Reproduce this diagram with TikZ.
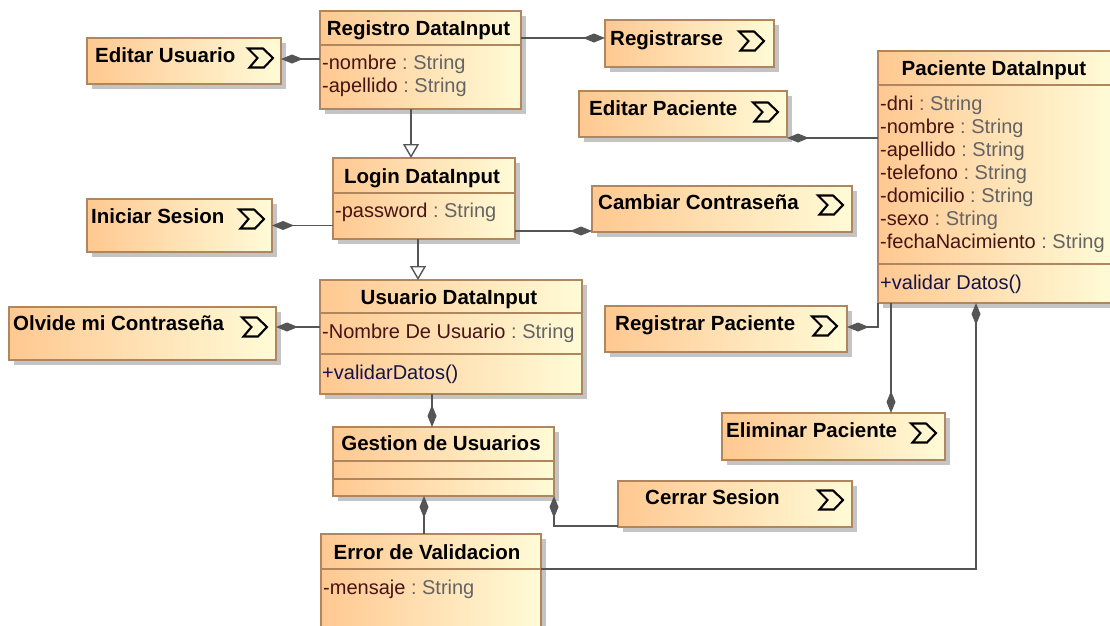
\documentclass[tikz,border=0pt]{standalone}
\usepackage{fontspec}
\setmainfont{Liberation Sans}
\usetikzlibrary{arrows.meta,shadows,calc}
\definecolor{cor}{RGB}{255,200,145}
\definecolor{cye}{RGB}{255,251,215}
\definecolor{cbd}{RGB}{176,134,94}
\definecolor{cln}{RGB}{85,85,85}
\definecolor{cnm}{RGB}{70,20,20}
\definecolor{cty}{RGB}{100,100,100}
\definecolor{cop}{RGB}{20,20,70}
\definecolor{csh}{RGB}{196,196,196}
\newcommand\attrline[2]{\textcolor{cnm}{#1}\ \textcolor{cty}{:\ #2}}
\tikzset{
  cls/.style={draw=cbd, line width=1.3pt, left color=cor, right color=cye, anchor=north west, inner sep=0pt, outer sep=0pt,
    drop shadow={shadow xshift=5pt, shadow yshift=-5pt, fill=csh, opacity=1}},
  sepline/.style={draw=cbd, line width=1.2pt},
  ttl/.style={font=\fontsize{20.5}{23}\selectfont\bfseries, inner sep=0pt, anchor=base},
  act/.style={font=\fontsize{20.5}{23}\selectfont\bfseries, inner sep=0pt, anchor=base west},
  attr/.style={font=\fontsize{20}{23}\selectfont, inner sep=0pt, anchor=base west},
  comp/.style={draw=cln, line width=1.4pt, -{Diamond[length=22pt,width=9pt,fill=cln]}},
  gen/.style={draw=cln, line width=1.4pt, -{Triangle[open,length=14pt,width=16pt,fill=white]}},
  chev/.pic={\draw[line width=2.1pt, line join=miter, black] (0,0) -- (15,0) -- (25,9.5) -- (16,19) -- (1.5,19) -- (9.5,9.5) -- cycle;},
}
\begin{document}
\begin{tikzpicture}[x=1pt,y=-1pt]
\useasboundingbox (0,0) rectangle (1110,625);
\clip (0,0) rectangle (1110,625);
% ---------- classes ----------
\node[cls, minimum width=201pt, minimum height=98pt] (reg) at (320,11) {};
\draw[sepline] ([yshift=-34pt]reg.north west) -- ([yshift=-34pt]reg.north east);
\node[ttl] (regT) at (418.5,35) {Registro DataInput};
\node[attr] (regA1) at (322,69) {\attrline{-nombre}{String}};
\node[attr] (regA2) at (322,92) {\attrline{-apellido}{String}};

\node[cls, minimum width=182pt, minimum height=81pt] (login) at (333,158) {};
\draw[sepline] ([yshift=-35pt]login.north west) -- ([yshift=-35pt]login.north east);
\node[ttl] (loginT) at (422,183) {Login DataInput};
\node[attr] (loginA1) at (335,217) {\attrline{-password}{String}};

\node[cls, minimum width=262pt, minimum height=114pt] (usu) at (320,280) {};
\draw[sepline] ([yshift=-33pt]usu.north west) -- ([yshift=-33pt]usu.north east);
\draw[sepline] ([yshift=-74pt]usu.north west) -- ([yshift=-74pt]usu.north east);
\node[ttl] (usuT) at (449,304) {Usuario DataInput};
\node[attr] (usuA1) at (322,338) {\attrline{-Nombre De Usuario}{String}};
\node[attr] (usuO1) at (322,379) {\textcolor{cop}{+validarDatos()}};

\node[cls, minimum width=221pt, minimum height=69pt] (gest) at (333,427) {};
\draw[sepline] ([yshift=-34pt]gest.north west) -- ([yshift=-34pt]gest.north east);
\draw[sepline] ([yshift=-52pt]gest.north west) -- ([yshift=-52pt]gest.north east);
\node[ttl] (gestT) at (441,450) {Gestion de Usuarios};

\node[cls, minimum width=220pt, minimum height=120pt] (err) at (321,534) {};
\draw[sepline] ([yshift=-35pt]err.north west) -- ([yshift=-35pt]err.north east);
\node[ttl] (errT) at (427,559) {Error de Validacion};
\node[attr] (errA1) at (323,594) {\attrline{-mensaje}{String}};

\node[cls, minimum width=234pt, minimum height=252pt] (pac) at (878,51) {};
\draw[sepline] ([yshift=-34pt]pac.north west) -- ([yshift=-34pt]pac.north east);
\draw[sepline] ([yshift=-213pt]pac.north west) -- ([yshift=-213pt]pac.north east);
\node[ttl] (pacT) at (994,75) {Paciente DataInput};
\node[attr] (pacA1) at (880,110) {\attrline{-dni}{String}};
\node[attr] (pacA2) at (880,133) {\attrline{-nombre}{String}};
\node[attr] (pacA3) at (880,156) {\attrline{-apellido}{String}};
\node[attr] (pacA4) at (880,179) {\attrline{-telefono}{String}};
\node[attr] (pacA5) at (880,202) {\attrline{-domicilio}{String}};
\node[attr] (pacA6) at (880,225) {\attrline{-sexo}{String}};
\node[attr] (pacA7) at (880,248) {\attrline{-fechaNacimiento}{String}};
\node[attr] (pacO1) at (880,289) {\textcolor{cop}{+validar Datos()}};

% ---------- actions ----------
\node[cls, minimum width=194pt, minimum height=46pt] (editU) at (87,38) {};
\node[act] (editUT) at (95,62) {Editar Usuario};
\pic at (248,48.5) {chev};

\node[cls, minimum width=169pt, minimum height=47pt] (regs) at (605,20) {};
\node[act] (regsT) at (610,45) {Registrarse};
\pic at (739,31.5) {chev};

\node[cls, minimum width=208pt, minimum height=46pt] (editP) at (579,91) {};
\node[act] (editPT) at (589,115) {Editar Paciente};
\pic at (753,102.5) {chev};

\node[cls, minimum width=185pt, minimum height=53pt] (inic) at (87,199) {};
\node[act] (inicT) at (91,223) {Iniciar Sesion};
\pic at (239,209.5) {chev};

\node[cls, minimum width=260pt, minimum height=46pt] (camb) at (592,186) {};
\node[act] (cambT) at (598,209) {Cambiar Contraseña};
\pic at (818,195.5) {chev};

\node[cls, minimum width=267pt, minimum height=53pt] (olv) at (9,307) {};
\node[act] (olvT) at (13,330) {Olvide mi Contraseña};
\pic at (242,317.5) {chev};

\node[cls, minimum width=242pt, minimum height=46pt] (regP) at (605,306) {};
\node[act] (regPT) at (615,330) {Registrar Paciente};
\pic at (812,316.5) {chev};

\node[cls, minimum width=223pt, minimum height=47pt] (elim) at (722,413) {};
\node[act] (elimT) at (726,437) {Eliminar Paciente};
\pic at (911,423.5) {chev};

\node[cls, minimum width=234pt, minimum height=46pt] (cerr) at (618,481) {};
\node[act] (cerrT) at (645,504) {Cerrar Sesion};
\pic at (818,490.5) {chev};

% ---------- connectors ----------
\coordinate (k1) at ([yshift=2pt]editU.east);
\draw[comp] (k1 -| reg.west) -- (k1);
\coordinate (k2) at ([yshift=5.5pt]regs.west);
\draw[comp] (k2 -| reg.east) -- (k2);
\coordinate (k3) at ([xshift=-9.5pt]reg.south);
\draw[gen] (k3) -- (k3 |- login.north);
\draw[comp] (login.west |- inic.east) -- (inic.east);
\coordinate (k5) at ([yshift=1pt]camb.south west);
\draw[comp] (k5 -| login.east) -- (k5);
\coordinate (k6) at ([xshift=-6pt]login.south);
\draw[gen] (k6) -- (k6 |- usu.north);
\coordinate (k7) at ([yshift=6.5pt]olv.east);
\draw[comp] (k7 -| usu.west) -- (k7);
\coordinate (k8) at ([xshift=-11.5pt]gest.north);
\draw[comp] (k8 |- usu.south) -- (k8);
\coordinate (k9) at ([xshift=-19.5pt]gest.south);
\draw[comp] (k9 |- err.north) -- (k9);
\coordinate (k10) at ([yshift=1pt]cerr.south west);
\draw[comp] (k10) -| (gest.south east);
\coordinate (k11) at ([yshift=-1pt]editP.south east);
\draw[comp] (k11 -| pac.west) -- (k11);
\coordinate (k12) at ([yshift=2pt]regP.east);
\draw[comp] (pac.south west) |- (k12);
\coordinate (k13) at ([xshift=13pt]pac.south west);
\draw[comp] (k13) -- (k13 |- elim.north);
\coordinate (k14) at ([xshift=98pt]pac.south west);
\coordinate (k14b) at ([yshift=-35pt]err.north east);
\draw[comp] (k14b) -| (k14);
\end{tikzpicture}
\end{document}
